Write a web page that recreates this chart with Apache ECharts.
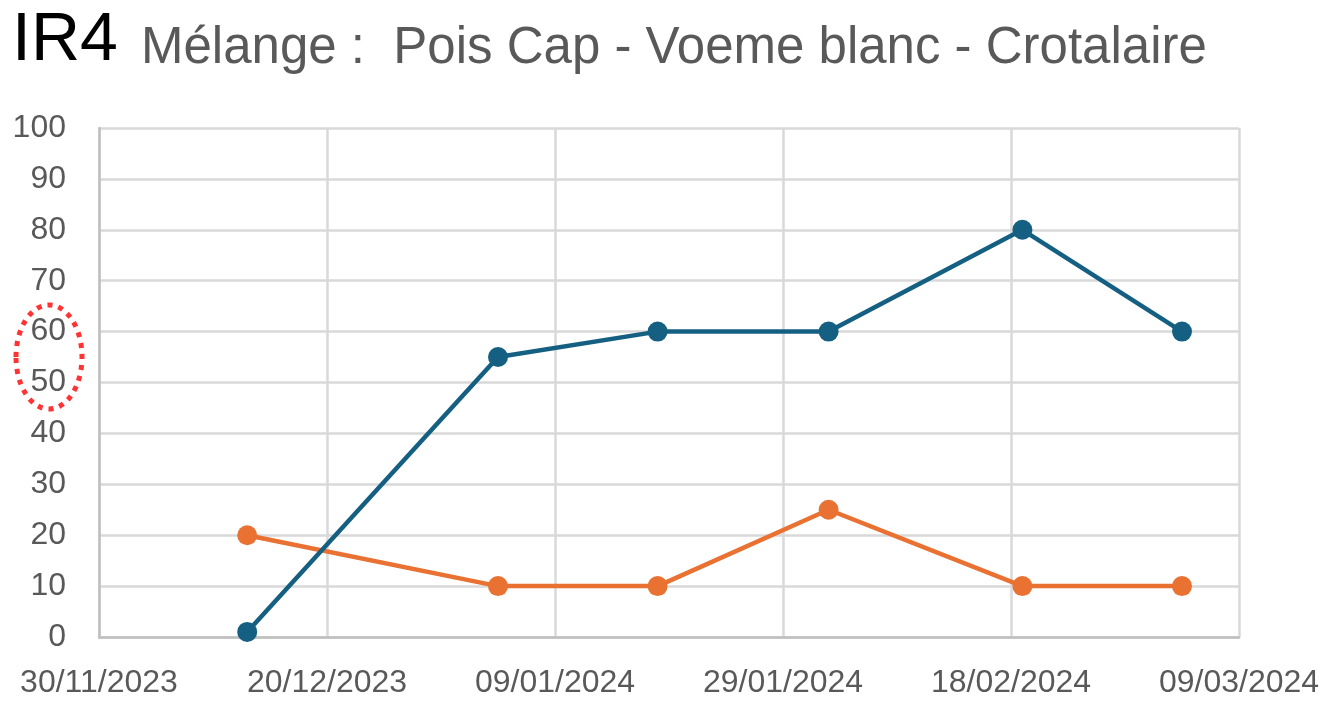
<!DOCTYPE html>
<html>
<head>
<meta charset="utf-8">
<script src="https://cdn.jsdelivr.net/npm/echarts@6/dist/echarts.min.js"></script>
<style>
html,body{margin:0;padding:0;background:#fff;}
#chart{width:1330px;height:701px;}
</style>
</head>
<body>
<div id="chart"></div>
<script>
// ---- data ----
const titleMain = 'IR4';
const titleSub = 'Mélange :  Pois Cap - Voeme blanc - Crotalaire';
const dates = ['2023-12-13', '2024-01-04', '2024-01-18', '2024-02-02', '2024-02-19', '2024-03-04'];
const seriesBlue = [1, 55, 60, 60, 80, 60];
const seriesOrange = [20, 10, 10, 25, 10, 10];
const xMinDate = '2023-11-30';
const xMaxDate = '2024-03-09';
const xStepDays = 20;
const yMin = 0, yMax = 100, yStep = 10;

function toMs(s){ const p = s.split('-').map(Number); return Date.UTC(p[0], p[1]-1, p[2]); }
function fmt(ms){
  const d = new Date(ms);
  const dd = String(d.getUTCDate()).padStart(2,'0');
  const mm = String(d.getUTCMonth()+1).padStart(2,'0');
  return dd + '/' + mm + '/' + d.getUTCFullYear();
}
const DAY = 86400000;

const chart = echarts.init(document.getElementById('chart'), null, {renderer:'canvas'});
const labelFont = {color:'#595959', fontSize:32, fontFamily:'Liberation Sans'};
chart.setOption({
  animation:false,
  backgroundColor:'#ffffff',
  title:[
    {text:titleMain, left:7, top:2, textStyle:{fontFamily:'Liberation Sans', fontSize:68, fontWeight:'normal', color:'#000000'}},
    {text:titleSub, left:136, top:18, textStyle:{fontFamily:'Liberation Sans', fontSize:51, fontWeight:'normal', color:'#595959'}}
  ],
  grid:{left:99, right:91, top:128, bottom:64, containLabel:false},
  xAxis:{
    type:'value',
    min:toMs(xMinDate), max:toMs(xMaxDate), interval:xStepDays*DAY,
    axisLine:{show:true, lineStyle:{color:'#bfbfbf', width:2.5}},
    axisTick:{show:false},
    splitLine:{show:true, lineStyle:{color:'#d9d9d9', width:2.5}},
    axisLabel:Object.assign({margin:30, showMinLabel:true, showMaxLabel:true, formatter:(v)=>fmt(v)}, labelFont)
  },
  yAxis:{
    type:'value', min:yMin, max:yMax, interval:yStep,
    axisLine:{show:true, lineStyle:{color:'#bfbfbf', width:2.5}},
    axisTick:{show:false},
    splitLine:{show:true, lineStyle:{color:'#d9d9d9', width:2.5}},
    axisLabel:Object.assign({margin:33}, labelFont)
  },
  series:[
    {type:'line', name:'Bleu', data:dates.map((d,i)=>[toMs(d), seriesBlue[i]]),
     symbol:'circle', symbolSize:20, lineStyle:{color:'#156082', width:4.5}, itemStyle:{color:'#156082'}, z:3},
    {type:'line', name:'Orange', data:dates.map((d,i)=>[toMs(d), seriesOrange[i]]),
     symbol:'circle', symbolSize:20, lineStyle:{color:'#E97132', width:4.5}, itemStyle:{color:'#E97132'}, z:2}
  ],
  graphic:[
    {type:'ellipse', shape:{cx:49, cy:357, rx:33, ry:52}, z:10,
     style:{fill:'none', stroke:'#ff3333', lineWidth:5, lineDash:[5,6]}}
  ]
});
</script>
</body>
</html>
